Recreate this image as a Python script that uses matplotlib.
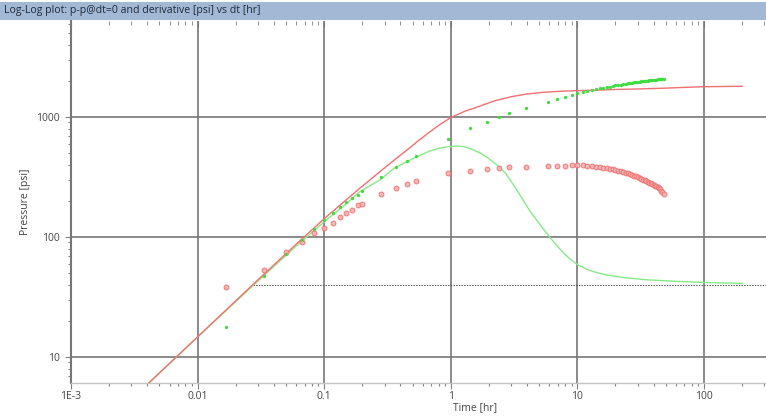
import matplotlib.pyplot as plt
from matplotlib.patches import Rectangle
from matplotlib.ticker import LogLocator, FixedLocator, FixedFormatter, NullFormatter

plt.rcParams['font.family'] = ['Open Sans', 'DejaVu Sans']

# measured data: elapsed time [hr], p - p@dt=0 [psi], derivative [psi]
t_data = [0.0167, 0.0333, 0.05, 0.0667, 0.0833, 0.1, 0.1167, 0.1333, 0.15, 0.1667,
          0.1833, 0.2, 0.283, 0.367, 0.45, 0.533, 0.95, 1.43, 1.93, 2.41, 2.9, 3.93,
          5.86, 6.9, 7.94,
          9, 10, 11, 12, 13, 14, 15, 16, 17, 18, 19, 20, 21, 22, 23, 24, 25, 26, 27, 28,
          29, 30, 31, 32, 33, 34, 35, 36, 37, 38, 39, 40, 41, 42, 43, 44, 45, 46, 47, 48]
dp_data = [17.8, 47, 72, 95, 116, 139, 157, 177, 195, 210,
           226, 242, 314, 381, 433, 476, 660, 815, 914, 994, 1074, 1181,
           1341, 1405, 1460,
           1525, 1570, 1610, 1645, 1675, 1705, 1730, 1755, 1775, 1795, 1815, 1832, 1850,
           1865, 1880, 1893, 1906, 1918, 1930, 1941, 1952, 1962, 1972, 1981, 1990, 1998,
           2006, 2014, 2021, 2028, 2035, 2041, 2047, 2053, 2058, 2063, 2067, 2071, 2075, 2079]
deriv_data = [38.6, 53, 75.5, 91, 109, 118, 130, 146, 159, 169,
              183, 188, 228, 258, 277, 295, 340, 353, 366, 374, 381, 386,
              392, 392, 394,
              398, 397, 395, 392, 389, 385, 382, 378, 374, 370, 366, 362, 357, 353, 349,
              344, 339, 335, 330, 325, 320, 316, 311, 306, 301, 297, 292, 288, 284, 280,
              276, 272, 268, 264, 259, 254, 249, 243, 237, 228]

# model pressure curve
t_model = [0.004, 0.01, 0.03, 0.06, 0.1, 0.15, 0.2, 0.28, 0.36, 0.45, 0.55, 0.65, 0.8,
           1.0, 1.3, 1.65, 2.2, 3.0, 4.0, 5.4, 7.5, 10, 15, 20, 30, 50, 70, 100, 150, 200]
dp_model = [5.9, 14.7, 44, 87, 142, 205, 265, 355, 440, 530, 630, 722, 850,
            990, 1120, 1220, 1360, 1476, 1555, 1606, 1640, 1656, 1680, 1695, 1712, 1740,
            1765, 1788, 1797, 1805]

# model derivative curve
t_model_d = [0.004, 0.01, 0.03, 0.06, 0.1, 0.15, 0.19, 0.276, 0.355, 0.45, 0.54, 0.68,
             0.82, 0.96, 1.1, 1.25, 1.4, 1.73, 2.0, 2.4, 2.7, 3.14, 3.6, 4.24, 4.8, 5.4,
             6.1, 6.8, 7.4, 8.0, 9.0, 10, 12, 14.4, 17, 20.6, 25, 35, 60, 100, 200]
deriv_model = [5.9, 14.7, 43, 84, 134, 190, 238, 299, 373, 425, 467, 520,
               551, 566, 573, 568, 550, 498, 450, 386, 340, 270, 215, 163, 137, 116,
               98.5, 86, 78, 71.5, 64, 59, 53.5, 50.3, 48.3, 46.8, 45.5, 44, 42.7, 41.8, 41]

# radial flow stabilisation line
iarf_level = 40
iarf_start = 0.0275

x_ticks = [1e-3, 0.01, 0.1, 1, 10, 100]
x_labels = ['1E-3', '0.01', '0.1', '1', '10', '100']
y_ticks = [10, 100, 1000]
y_labels = ['10', '100', '1000']
x_min, x_max = 1e-3, 309
y_min, y_max = 6.07, 6310

W, H = 766, 418
fig = plt.figure(figsize=(W / 100, H / 100), dpi=100)
ax = fig.add_axes([71 / W, 1 - 383 / H, 1 - 71 / W, (383 - 21) / H])

# title bar
fig.patches.append(Rectangle((0, 1 - 20 / H), 1, 18 / H, transform=fig.transFigure,
                             facecolor='#a2b9d6', edgecolor='none'))
fig.text(4 / W, 1 - 11 / H, 'Log-Log plot: p-p@dt=0 and derivative [psi] vs dt [hr]',
         va='center', ha='left', fontsize=7.6, color='#1e2a38')

ax.set_xscale('log')
ax.set_yscale('log')
ax.set_xlim(x_min, x_max)
ax.set_ylim(y_min, y_max)

ax.plot(t_model_d, deriv_model, color='#86ea86', lw=1.0, zorder=3)
ax.plot(t_model, dp_model, color='#f07070', lw=1.0, zorder=3)
ax.hlines(iarf_level, iarf_start, x_max, colors='#555555', linestyles=(0, (1.2, 1.2)),
          lw=0.8, zorder=2)
ax.plot(t_data, deriv_data, 'o', ms=3.5, mfc='#f6b0b0', mec='#ec7070', mew=0.7,
        alpha=0.9, zorder=4)
ax.plot(t_data, dp_data, 'o', ms=2.4, mfc='#3fdc3f', mec='none', zorder=5)

ax.grid(True, which='major', color='#777777', lw=1.2, zorder=1)

ax.xaxis.set_major_locator(FixedLocator(x_ticks))
ax.xaxis.set_major_formatter(FixedFormatter(x_labels))
ax.yaxis.set_major_locator(FixedLocator(y_ticks))
ax.yaxis.set_major_formatter(FixedFormatter(y_labels))
ax.xaxis.set_minor_locator(LogLocator(base=10, subs=[2, 3, 4, 5, 6, 7, 8, 9], numticks=20))
ax.yaxis.set_minor_locator(LogLocator(base=10, subs=[2, 3, 4, 5, 6, 7, 8, 9], numticks=20))
ax.xaxis.set_minor_formatter(NullFormatter())
ax.yaxis.set_minor_formatter(NullFormatter())
ax.tick_params(which='both', direction='out', color='#808080', labelcolor='#444444',
               labelsize=7.5)
ax.tick_params(which='major', length=4, width=0.8)
ax.tick_params(which='minor', length=2.5, width=0.8)
ax.tick_params(axis='x', pad=1.5)
ax.tick_params(axis='y', pad=4)

# ticks along the top edge
top = ax.secondary_xaxis('top')
top.xaxis.set_major_locator(FixedLocator(x_ticks))
top.xaxis.set_minor_locator(LogLocator(base=10, subs=[2, 3, 4, 5, 6, 7, 8, 9], numticks=20))
top.tick_params(which='both', direction='in', labeltop=False, color='#808080')
top.tick_params(which='major', length=4)
top.tick_params(which='minor', length=3)
top.spines['top'].set_visible(False)

for side in ['top', 'right']:
    ax.spines[side].set_visible(False)
ax.spines['left'].set_color('#777777')
ax.spines['left'].set_linewidth(1.5)
ax.spines['bottom'].set_color('#c4c4c4')
ax.spines['bottom'].set_linewidth(1.0)

ax.set_xlabel('Time [hr]', fontsize=7.5, color='#444444', va='center')
ax.xaxis.set_label_coords((475 - 71) / (W - 71), -(408 - 383) / (383 - 21))
ax.set_ylabel('Pressure [psi]', fontsize=7.5, color='#444444')
ax.yaxis.set_label_coords(-(71 - 31) / (W - 71), (383 - 202) / (383 - 21))

fig.savefig('out.png', dpi=100)
